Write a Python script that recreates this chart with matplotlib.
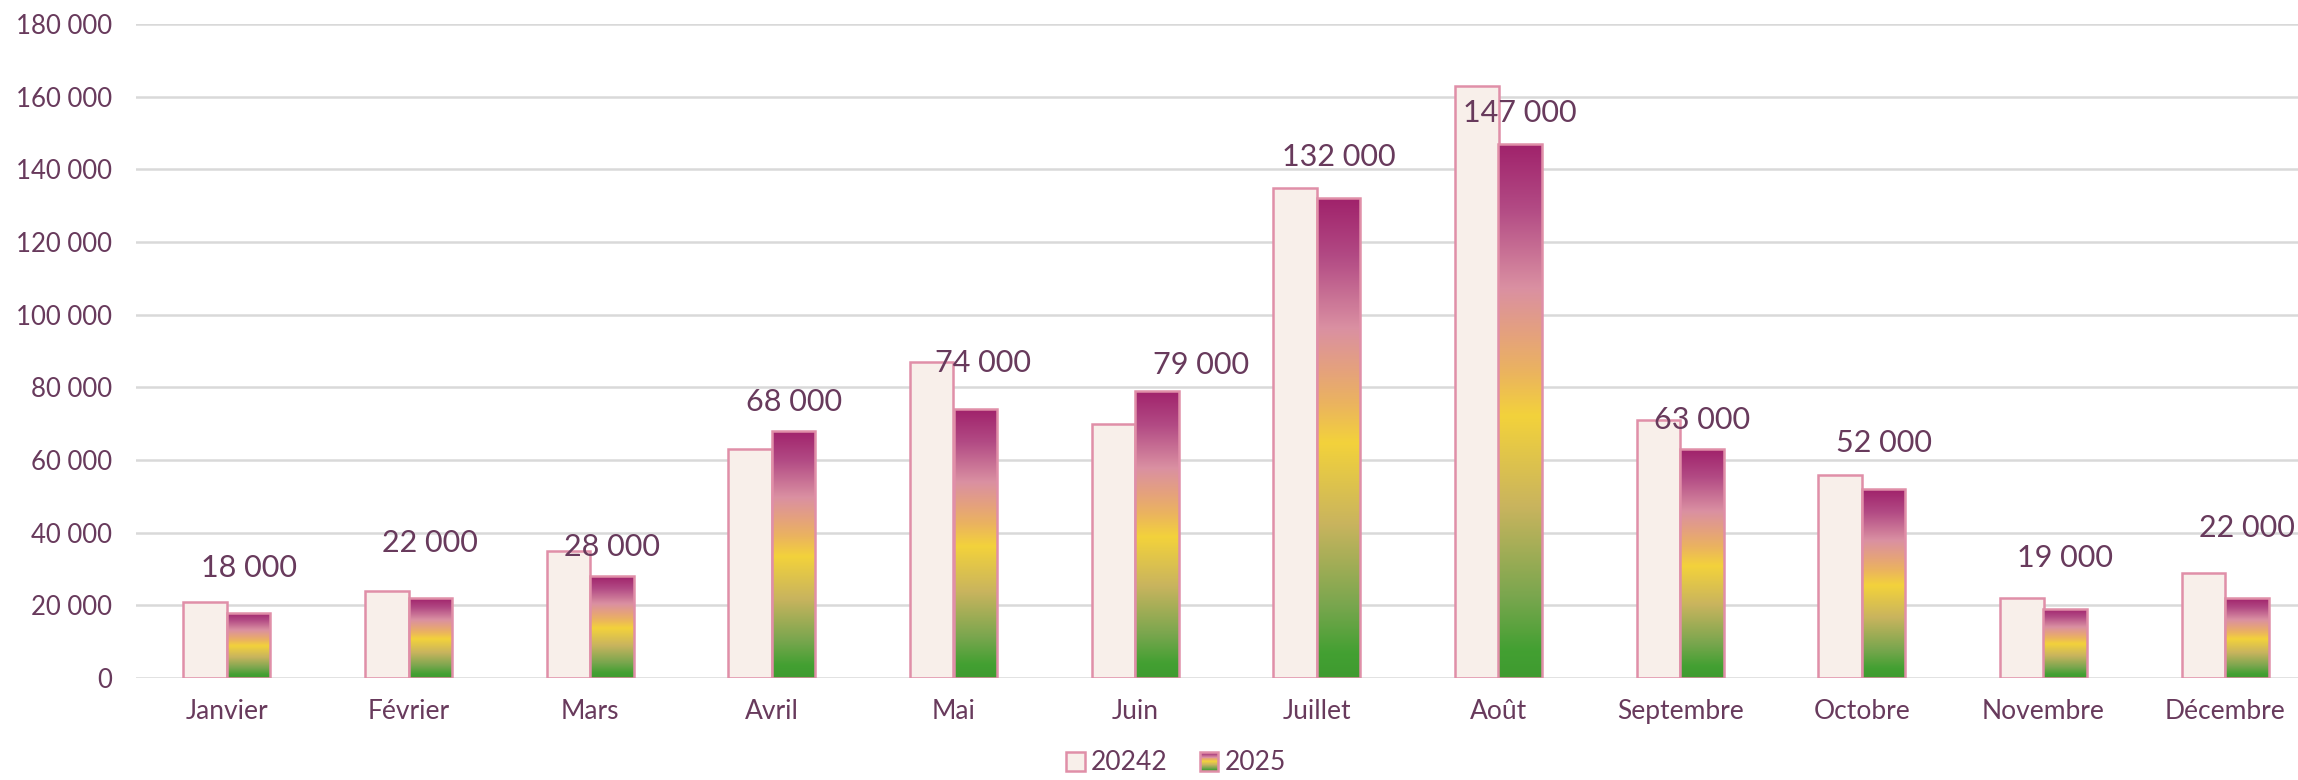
import matplotlib
matplotlib.use("Agg")
import matplotlib.pyplot as plt
import numpy as np
from matplotlib.colors import LinearSegmentedColormap
from matplotlib.patches import Rectangle, Patch
from matplotlib.legend_handler import HandlerPatch

mois = ["Janvier", "Février", "Mars", "Avril", "Mai", "Juin", "Juillet",
        "Août", "Septembre", "Octobre", "Novembre", "Décembre"]
val_2024 = [21000, 24000, 35000, 63000, 87000, 70000, 135000,
            163000, 71000, 56000, 22000, 29000]
val_2025 = [18000, 22000, 28000, 68000, 74000, 79000, 132000,
            147000, 63000, 52000, 19000, 22000]
legende = ["20242", "2025"]

# position des etiquettes (decalage x en categories, y en valeur)
etiq_dx = [0, 0, 0, 0, 0.045, 0.24, 0, 0, 0, 0, 0, 0]
etiq_y = [30300, 37200, 36100, 76000, 86700, 86100, 143400,
          155500, 71000, 64700, 33000, 41300]

texte = "#683a5c"
bord = "#e08fa8"
fond24 = "#f8efea"

plt.rcParams['font.family'] = ['Lato', 'DejaVu Sans']

degrade = LinearSegmentedColormap.from_list("deg", [
    (0.0, "#a0226b"),
    (0.12, "#b24a84"),
    (0.27, "#da90a2"),
    (0.36, "#e5a27c"),
    (0.43, "#ebb45e"),
    (0.51, "#f3d23b"),
    (0.68, "#c9b45e"),
    (0.85, "#79a64e"),
    (0.95, "#43a032"),
    (1.0, "#3f9b30"),
])

fig = plt.figure(figsize=(22.98, 7.8), dpi=100)
ax = fig.add_axes([136 / 2298, 1 - 678 / 780, 2180 / 2298, 654 / 780])

x = np.arange(len(mois))
w = 0.24
b1 = ax.bar(x - w / 2, val_2024, w, color=fond24, edgecolor=bord, linewidth=1.8, zorder=3)
b2 = ax.bar(x + w / 2, val_2025, w, color="none", edgecolor=bord, linewidth=1.8, zorder=4)

grad = np.linspace(0, 1, 256).reshape(-1, 1)
for r in b2:
    x0, y0 = r.get_x(), r.get_y()
    im = ax.imshow(grad, extent=[x0, x0 + r.get_width(), y0, y0 + r.get_height()],
                   aspect='auto', cmap=degrade, origin='upper', zorder=3.5,
                   interpolation='bicubic')
    im.set_clip_path(r)

for i, v in enumerate(val_2025):
    ax.text(x[i] + w / 2 + etiq_dx[i], etiq_y[i], f"{v:,}".replace(",", " "),
            ha='center', va='center', fontsize=22, color=texte, zorder=6)

ax.set_xlim(-0.5, len(mois) - 0.5)
ax.set_ylim(0, 180000)
ax.set_yticks(np.arange(0, 180001, 20000))
ax.set_yticklabels([f"{int(t):,}".replace(",", " ") for t in np.arange(0, 180001, 20000)])
ax.set_xticks(x)
ax.set_xticklabels(mois)
ax.tick_params(axis='both', length=0, colors=texte)
ax.tick_params(axis='y', pad=17, labelsize=18.5)
ax.tick_params(axis='x', pad=15, labelsize=19)
ax.grid(axis='y', color="#d9d9d9", linewidth=1.8, zorder=0)
ax.set_axisbelow(True)
for s in ax.spines.values():
    s.set_visible(False)


class HandlerDegrade(HandlerPatch):
    def create_artists(self, legend, orig_handle, xdescent, ydescent,
                       width, height, fontsize, trans):
        arts = []
        n = 20
        for k in range(n):
            c = degrade((k + 0.5) / n)
            arts.append(Rectangle((-xdescent, -ydescent + height * (1 - (k + 1) / n)),
                                  width, height / n, facecolor=c, edgecolor='none',
                                  transform=trans))
        arts.append(Rectangle((-xdescent, -ydescent), width, height, facecolor='none',
                              edgecolor=bord, linewidth=1.8, transform=trans))
        return arts


h1 = Patch(facecolor=fond24, edgecolor=bord, linewidth=1.8)
h2 = Patch(facecolor='none', edgecolor=bord)
leg = fig.legend([h1, h2], legende, loc='center', bbox_to_anchor=(1176 / 2298, 1 - 763 / 780),
                 ncol=2, frameon=False, fontsize=19, handlelength=0.7, handleheight=0.7,
                 handletextpad=0.25, columnspacing=1.2,
                 handler_map={h2: HandlerDegrade()})
for t in leg.get_texts():
    t.set_color(texte)

fig.savefig("out.png", dpi=100)
